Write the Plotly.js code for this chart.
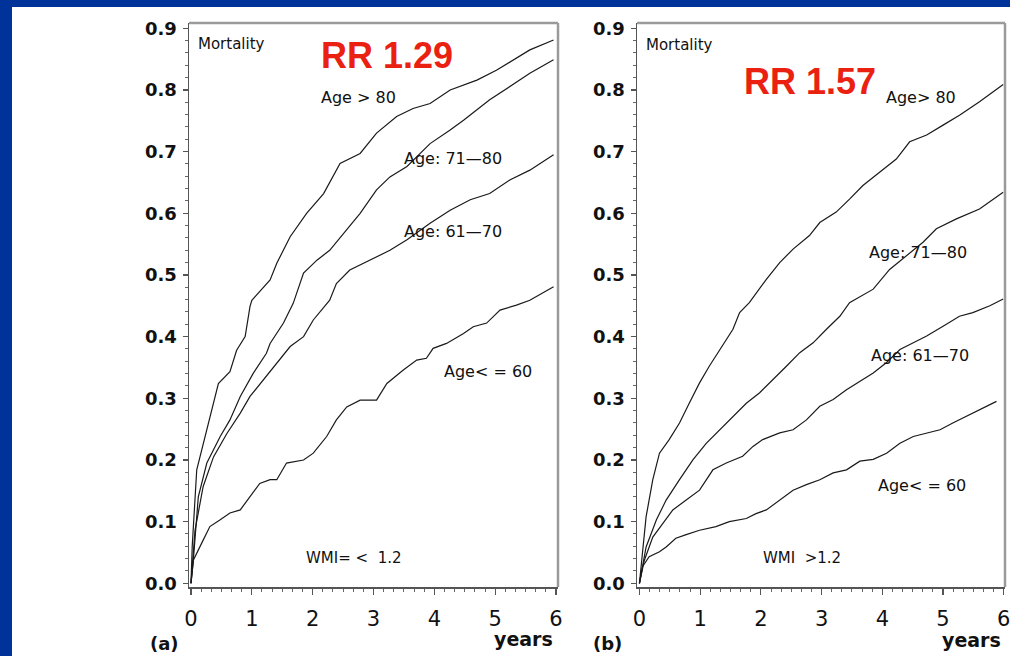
<!DOCTYPE html>
<html>
<head>
<meta charset="utf-8">
<script src="https://cdn.plot.ly/plotly-3.0.1.min.js"></script>
<style>
  html, body { margin: 0; padding: 0; background: #003399; width: 1010px; height: 656px; overflow: hidden; }
  #chart { position: absolute; left: 12px; top: 7px; width: 998px; height: 649px; }
</style>
</head>
<body>
<div id="chart"></div>
<script>
// ---- Data (years, cumulative mortality) ----
// Panel (a): WMI =< 1.2
const a_gt80_t = [0, 0.02, 0.094, 0.285, 0.45, 0.64, 0.75, 0.89, 0.97, 1.0, 1.19, 1.30, 1.41, 1.63, 1.90, 2.18, 2.45, 2.78, 3.05, 3.38, 3.65, 3.93, 4.26, 4.70, 5.02, 5.30, 5.57, 5.96];
const a_gt80_v = [0, 0.06, 0.184, 0.259, 0.324, 0.343, 0.378, 0.40, 0.449, 0.459, 0.481, 0.492, 0.519, 0.562, 0.600, 0.632, 0.681, 0.697, 0.730, 0.757, 0.770, 0.778, 0.800, 0.816, 0.832, 0.849, 0.865, 0.881];

const a_7180_t = [0, 0.04, 0.12, 0.26, 0.48, 0.64, 0.81, 1.02, 1.24, 1.30, 1.52, 1.68, 1.85, 2.07, 2.28, 2.50, 2.78, 3.05, 3.27, 3.55, 3.93, 4.26, 4.48, 4.91, 5.24, 5.57, 5.96];
const a_7180_v = [0, 0.04, 0.14, 0.195, 0.238, 0.265, 0.303, 0.34, 0.373, 0.389, 0.422, 0.454, 0.503, 0.524, 0.540, 0.567, 0.600, 0.638, 0.659, 0.676, 0.713, 0.735, 0.751, 0.784, 0.805, 0.827, 0.849];

const a_6170_t = [0, 0.066, 0.20, 0.37, 0.59, 0.81, 0.97, 1.19, 1.41, 1.63, 1.85, 2.01, 2.28, 2.39, 2.61, 2.94, 3.27, 3.55, 3.93, 4.26, 4.59, 4.91, 5.24, 5.57, 5.96];
const a_6170_v = [0, 0.086, 0.157, 0.205, 0.243, 0.276, 0.303, 0.33, 0.357, 0.384, 0.40, 0.427, 0.459, 0.486, 0.508, 0.524, 0.540, 0.557, 0.584, 0.605, 0.622, 0.632, 0.654, 0.670, 0.695];

const a_le60_t = [0, 0.04, 0.20, 0.31, 0.48, 0.64, 0.81, 0.97, 1.13, 1.30, 1.41, 1.57, 1.85, 2.01, 2.23, 2.39, 2.56, 2.78, 3.05, 3.22, 3.49, 3.71, 3.87, 3.98, 4.20, 4.48, 4.64, 4.86, 5.08, 5.35, 5.57, 5.96];
const a_le60_v = [0, 0.038, 0.07, 0.092, 0.103, 0.114, 0.119, 0.14, 0.162, 0.168, 0.168, 0.195, 0.20, 0.211, 0.238, 0.265, 0.286, 0.297, 0.297, 0.324, 0.346, 0.362, 0.365, 0.381, 0.389, 0.405, 0.416, 0.422, 0.443, 0.451, 0.459, 0.481];

// Panel (b): WMI > 1.2
const b_gt80_t = [0, 0.03, 0.11, 0.22, 0.33, 0.49, 0.66, 0.82, 0.99, 1.15, 1.37, 1.54, 1.65, 1.81, 2.09, 2.31, 2.53, 2.80, 2.97, 3.24, 3.46, 3.68, 3.96, 4.23, 4.45, 4.73, 5.00, 5.27, 5.60, 5.99];
const b_gt80_v = [0, 0.027, 0.108, 0.168, 0.211, 0.233, 0.26, 0.292, 0.325, 0.352, 0.385, 0.412, 0.439, 0.455, 0.493, 0.52, 0.542, 0.564, 0.585, 0.602, 0.623, 0.645, 0.667, 0.688, 0.716, 0.727, 0.743, 0.759, 0.781, 0.809];

const b_7180_t = [0, 0.11, 0.28, 0.44, 0.66, 0.88, 1.10, 1.32, 1.54, 1.76, 1.98, 2.20, 2.42, 2.64, 2.86, 3.08, 3.30, 3.46, 3.85, 4.12, 4.40, 4.67, 4.89, 5.22, 5.60, 5.99];
const b_7180_v = [0, 0.059, 0.103, 0.135, 0.168, 0.20, 0.227, 0.249, 0.271, 0.292, 0.309, 0.33, 0.352, 0.374, 0.39, 0.412, 0.433, 0.455, 0.477, 0.509, 0.531, 0.553, 0.575, 0.591, 0.607, 0.634];

const b_6170_t = [0, 0.08, 0.22, 0.38, 0.55, 0.77, 0.99, 1.21, 1.43, 1.70, 1.87, 2.03, 2.31, 2.53, 2.75, 2.97, 3.19, 3.41, 3.68, 3.85, 4.07, 4.29, 4.51, 4.73, 5.00, 5.27, 5.49, 5.77, 5.99];
const b_6170_v = [0, 0.037, 0.075, 0.097, 0.119, 0.135, 0.151, 0.184, 0.195, 0.206, 0.222, 0.233, 0.244, 0.249, 0.265, 0.287, 0.298, 0.314, 0.33, 0.341, 0.358, 0.379, 0.39, 0.401, 0.417, 0.433, 0.439, 0.45, 0.461];

const b_le60_t = [0, 0.05, 0.16, 0.33, 0.44, 0.60, 0.77, 0.99, 1.26, 1.48, 1.76, 1.92, 2.09, 2.31, 2.53, 2.75, 2.97, 3.19, 3.41, 3.63, 3.85, 4.07, 4.29, 4.51, 4.73, 4.95, 5.16, 5.38, 5.60, 5.88];
const b_le60_v = [0, 0.027, 0.043, 0.051, 0.059, 0.073, 0.079, 0.086, 0.092, 0.10, 0.105, 0.113, 0.119, 0.135, 0.151, 0.16, 0.168, 0.179, 0.184, 0.198, 0.201, 0.211, 0.227, 0.238, 0.244, 0.249, 0.26, 0.271, 0.282, 0.295];

// Text content
const yTickVals = [0, 0.1, 0.2, 0.3, 0.4, 0.5, 0.6, 0.7, 0.8, 0.9];
const xTickVals = [0, 1, 2, 3, 4, 5, 6];
const labelsA = ["Mortality", "RR 1.29", "Age > 80", "Age: 71\u201480", "Age: 61\u201470", "Age< = 60", "WMI= <  1.2", "(a)", "years"];
const labelsB = ["Mortality", "RR 1.57", "Age> 80", "Age: 71\u201480", "Age: 61\u201470", "Age< = 60", "WMI  >1.2", "(b)", "years"];

// ---- Traces ----
const lineStyle = { color: '#1a1a1a', width: 1.2 };
function tr(t, v, xa, ya) {
  return { x: t, y: v, xaxis: xa, yaxis: ya, type: 'scatter', mode: 'lines',
           line: lineStyle, hoverinfo: 'skip', showlegend: false };
}
const data = [
  tr(a_gt80_t, a_gt80_v, 'x', 'y'),
  tr(a_7180_t, a_7180_v, 'x', 'y'),
  tr(a_6170_t, a_6170_v, 'x', 'y'),
  tr(a_le60_t, a_le60_v, 'x', 'y'),
  tr(b_gt80_t, b_gt80_v, 'x2', 'y2'),
  tr(b_7180_t, b_7180_v, 'x2', 'y2'),
  tr(b_6170_t, b_6170_v, 'x2', 'y2'),
  tr(b_le60_t, b_le60_v, 'x2', 'y2')
];

// ---- Axes ----
function xAxis(domain, range, anchor) {
  return {
    domain: domain, range: range, anchor: anchor,
    tickmode: 'array', tickvals: xTickVals, ticktext: xTickVals.map(String),
    ticks: 'outside', ticklen: 6, tickwidth: 1.2, tickcolor: '#555',
    minor: { dtick: 1/6, tick0: 0, ticks: 'outside', ticklen: 3, tickwidth: 1, tickcolor: '#666' },
    showline: true, linecolor: '#555', linewidth: 1.5,
    showgrid: false, zeroline: false, ticklabelstandoff: 6,
    ticklabeloverflow: 'allow',
    tickfont: { family: 'DejaVu Sans', size: 21, color: '#111' },
    fixedrange: true
  };
}
function yAxis(domain, range, anchor) {
  return {
    domain: domain, range: range, anchor: anchor,
    tickmode: 'array', tickvals: yTickVals, ticktext: yTickVals.map(v => v.toFixed(1)),
    ticks: 'outside', ticklen: 5, tickwidth: 1.2, tickcolor: '#555',
    minor: { dtick: 0.02, tick0: 0, ticks: 'outside', ticklen: 3, tickwidth: 1, tickcolor: '#666' },
    showline: true, linecolor: '#555', linewidth: 1.5,
    showgrid: false, zeroline: false, ticklabelstandoff: 2,
    tickfont: { family: 'DejaVu Sans', size: 18, color: '#111', weight: 'bold' },
    fixedrange: true
  };
}
const yDom = [69/649, 633/649];
const yRange = [-0.006, 0.9086];

// ---- Annotations ----
function ann(text, x, y, xa, ya, opts) {
  return Object.assign({ text: text, x: x, y: y, xref: xa, yref: ya, showarrow: false,
    xanchor: 'left', yanchor: 'middle',
    font: { family: 'DejaVu Sans', size: 16, color: '#111' } }, opts || {});
}
const red = { family: 'Liberation Sans, Arial', size: 36, color: '#ea2111', weight: 'bold' };
const panelFont = { family: 'DejaVu Sans', size: 18, color: '#111', weight: 'bold' };
const yearsFont = { family: 'DejaVu Sans', size: 19, color: '#111', weight: 'bold' };
const smallFont = { family: 'DejaVu Sans', size: 15, color: '#111' };

const annotations = [
  ann(labelsA[0], 0.09, 0.874, 'x', 'y', { font: smallFont }),
  ann(labelsA[1], 2.11, 0.856, 'x', 'y', { font: red }),
  ann(labelsA[2], 2.11, 0.787, 'x', 'y'),
  ann(labelsA[3], 3.47, 0.689, 'x', 'y'),
  ann(labelsA[4], 3.47, 0.570, 'x', 'y'),
  ann(labelsA[5], 4.13, 0.343, 'x', 'y'),
  ann(labelsA[6], 1.86, 0.041, 'x', 'y', { font: smallFont }),
  ann(labelsA[7], 0.136, 0.0185, 'paper', 'paper', { font: panelFont }),
  ann(labelsA[8], 0.5441, 0.0262, 'paper', 'paper', { xanchor: 'right', font: yearsFont }),

  ann(labelsB[0], 0.07, 0.873, 'x2', 'y2', { font: smallFont }),
  ann(labelsB[1], 1.69, 0.814, 'x2', 'y2', { font: red }),
  ann(labelsB[2], 4.03, 0.787, 'x2', 'y2'),
  ann(labelsB[3], 3.75, 0.537, 'x2', 'y2'),
  ann(labelsB[4], 3.78, 0.369, 'x2', 'y2'),
  ann(labelsB[5], 3.90, 0.159, 'x2', 'y2'),
  ann(labelsB[6], 2.00, 0.041, 'x2', 'y2', { font: smallFont }),
  ann(labelsB[7], 0.580, 0.02, 'paper', 'paper', { font: panelFont }),
  ann(labelsB[8], 0.993, 0.0247, 'paper', 'paper', { xanchor: 'right', font: yearsFont })
];

// ---- Frame (grey top and right edges) ----
function frame(xa, ya) {
  return [
    { type: 'line', xref: xa + ' domain', yref: ya + ' domain', x0: 0, x1: 1, y0: 1, y1: 1,
      line: { color: '#9a9a9a', width: 2.5 } },
    { type: 'line', xref: xa + ' domain', yref: ya + ' domain', x0: 1, x1: 1, y0: 0, y1: 1,
      line: { color: '#9a9a9a', width: 2.5 } }
  ];
}

const layout = {
  width: 998, height: 649,
  margin: { l: 0, r: 0, t: 0, b: 0 },
  paper_bgcolor: '#ffffff', plot_bgcolor: '#ffffff',
  showlegend: false,
  xaxis: xAxis([177/998, 546/998], [-0.033, 6.033], 'y'),
  yaxis: yAxis(yDom, yRange, 'x'),
  xaxis2: xAxis([625/998, 993/998], [-0.04, 6.02], 'y2'),
  yaxis2: yAxis(yDom, yRange, 'x2'),
  annotations: annotations,
  shapes: frame('x', 'y').concat(frame('x2', 'y2'))
};

Plotly.newPlot('chart', data, layout, { displayModeBar: false, staticPlot: true });
</script>
</body>
</html>
